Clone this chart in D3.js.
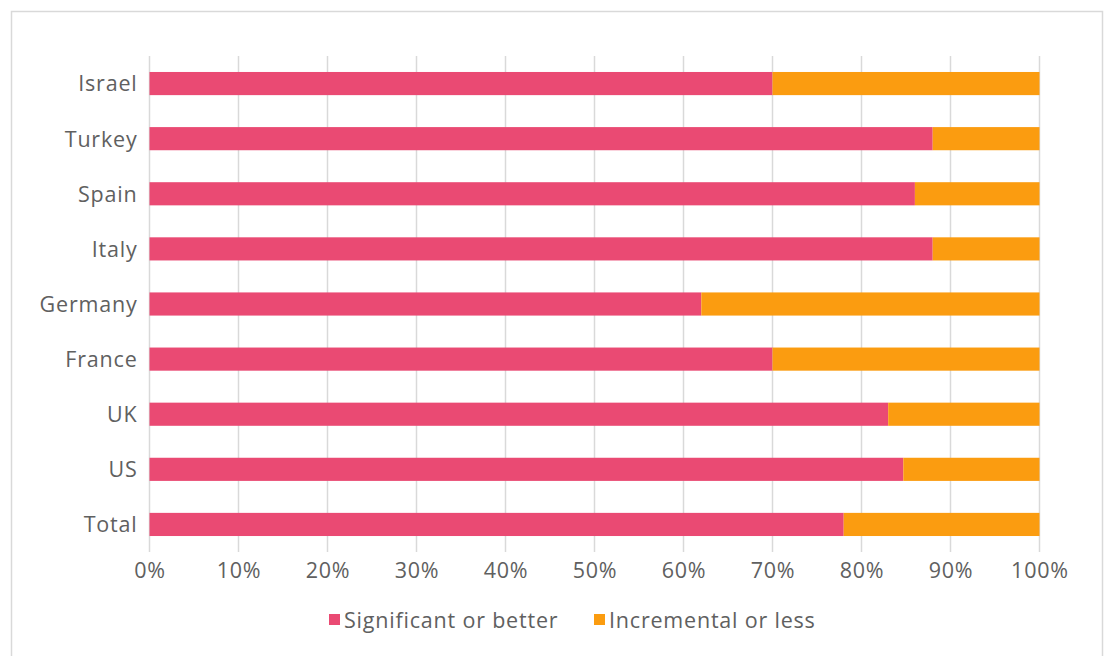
<!DOCTYPE html>
<html>
<head>
<meta charset="utf-8">
<script src="https://cdn.jsdelivr.net/npm/d3@7"></script>
<style>
  html, body { margin: 0; padding: 0; background: #fff; }
  svg { display: block; font-family: "Open Sans", sans-serif; }
</style>
</head>
<body>
<svg id="chart" width="1106" height="656"></svg>
<script>
// Countries, top to bottom
const categories = ["Israel", "Turkey", "Spain", "Italy", "Germany", "France", "UK", "US", "Total"];
// Share rating the change "significant or better" (%)
const significant = [70, 88, 86, 88, 62, 70, 83, 84.7, 78];
// Remainder: "incremental or less" (%)
const incremental = significant.map(v => +(100 - v).toFixed(1));
const seriesNames = ["Significant or better", "Incremental or less"];
const seriesColors = ["#EA4A73", "#FB9C10"];
const xTicks = [0, 10, 20, 30, 40, 50, 60, 70, 80, 90, 100];

(function draw() {
  const svg = d3.select("#chart");
  const fontFamily = "'Open Sans', sans-serif";
  const textColor = "#606060";
  const fontSize = "21.5px";
  const tracking = "0.8px";
  const styleText = sel => sel
    .attr("fill", textColor)
    .style("font-size", fontSize)
    .style("font-family", fontFamily)
    .style("font-weight", 400)
    .style("letter-spacing", tracking);

  // outer frame
  svg.append("rect")
    .attr("x", 11.5).attr("y", 11.5)
    .attr("width", 1091).attr("height", 660)
    .attr("fill", "none").attr("stroke", "#d9d9d9").attr("stroke-width", 1.5);

  const plotLeft = 149.5, plotRight = 1039.5, plotTop = 56, plotBottom = 552;

  const x = d3.scaleLinear().domain([0, 100]).range([plotLeft, plotRight]);
  const y = d3.scaleBand().domain(categories).range([plotTop, plotBottom]).paddingInner(0.58).paddingOuter(0.29);

  // vertical gridlines
  svg.append("g")
    .selectAll("line")
    .data(xTicks)
    .join("line")
    .attr("x1", d => x(d)).attr("x2", d => x(d))
    .attr("y1", plotTop).attr("y2", plotBottom)
    .attr("stroke", "#d9d9d9").attr("stroke-width", 1.5);

  // stacked bars
  const rows = categories.map((c, i) => ({ cat: c, s: significant[i], inc: incremental[i] }));
  const stack = d3.stack().keys(["s", "inc"])(rows);

  svg.append("g")
    .selectAll("g")
    .data(stack)
    .join("g")
    .attr("fill", (d, i) => seriesColors[i])
    .selectAll("rect")
    .data(d => d)
    .join("rect")
    .attr("x", d => x(d[0]))
    .attr("width", d => x(d[1]) - x(d[0]))
    .attr("y", d => y(d.data.cat))
    .attr("height", y.bandwidth());

  // x axis labels
  const xAxis = d3.axisBottom(x).tickValues(xTicks).tickFormat(d => d + "%").tickSize(0).tickPadding(11);
  const gx = svg.append("g").attr("transform", `translate(0,${plotBottom})`).call(xAxis);
  gx.select(".domain").remove();
  styleText(gx.selectAll("text"));

  // y axis labels
  const yAxis = d3.axisLeft(y).tickSize(0).tickPadding(12);
  const gy = svg.append("g").attr("transform", `translate(${plotLeft},1)`).call(yAxis);
  gy.select(".domain").remove();
  styleText(gy.selectAll("text"));

  // legend
  const legendItems = [
    { name: seriesNames[0], color: seriesColors[0], x: 329 },
    { name: seriesNames[1], color: seriesColors[1], x: 594 }
  ];
  const lg = svg.append("g");
  legendItems.forEach(it => {
    lg.append("rect").attr("x", it.x).attr("y", 614).attr("width", 11).attr("height", 11).attr("fill", it.color);
    styleText(lg.append("text").attr("x", it.x + 15).attr("y", 628).text(it.name));
  });
})();
</script>
</body>
</html>
